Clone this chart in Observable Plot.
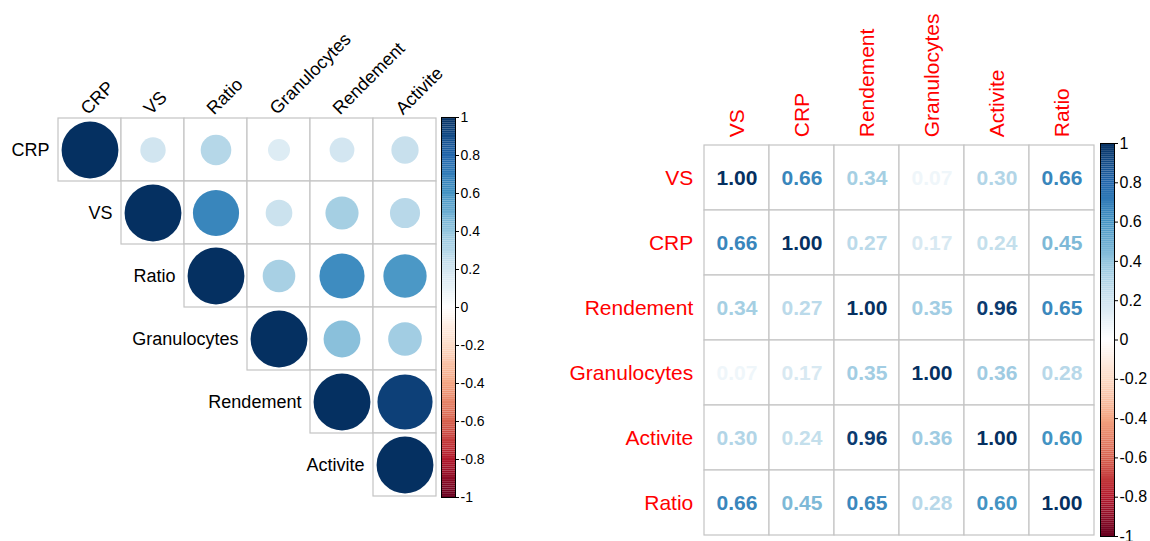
<!DOCTYPE html>
<html>
<head>
<meta charset="utf-8">
<script src="https://cdn.jsdelivr.net/npm/d3@7"></script>
<script src="https://cdn.jsdelivr.net/npm/@observablehq/plot@0.6"></script>
<style>
  body { margin: 0; background: #ffffff; }
  #chart { position: relative; width: 1150px; height: 541px; overflow: hidden; background: #ffffff; }
  #chart svg { position: absolute; top: 0; }
</style>
</head>
<body>
<div id="chart"></div>
<script>
// ---------- data ----------
const leftVars = ["CRP", "VS", "Ratio", "Granulocytes", "Rendement", "Activite"];
// upper triangle, row i from column i onward
const leftCRP = [1.00, 0.20, 0.29, 0.15, 0.19, 0.23];
const leftVS = [1.00, 0.66, 0.22, 0.34, 0.28];
const leftRatio = [1.00, 0.33, 0.63, 0.58];
const leftGranulocytes = [1.00, 0.42, 0.35];
const leftRendement = [1.00, 0.94];
const leftActivite = [1.00];

const rightVars = ["VS", "CRP", "Rendement", "Granulocytes", "Activite", "Ratio"];
const rightVS = [1.00, 0.66, 0.34, 0.07, 0.30, 0.66];
const rightCRP = [0.66, 1.00, 0.27, 0.17, 0.24, 0.45];
const rightRendement = [0.34, 0.27, 1.00, 0.35, 0.96, 0.65];
const rightGranulocytes = [0.07, 0.17, 0.35, 1.00, 0.36, 0.28];
const rightActivite = [0.30, 0.24, 0.96, 0.36, 1.00, 0.60];
const rightRatio = [0.66, 0.45, 0.65, 0.28, 0.60, 1.00];

const colorDomain = [-1, -0.8, -0.6, -0.4, -0.2, 0, 0.2, 0.4, 0.6, 0.8, 1];
const colorRange = ["#67001F", "#B2182B", "#D6604D", "#F4A582", "#FDDBC7", "#FFFFFF",
                    "#D1E5F0", "#92C5DE", "#4393C3", "#2166AC", "#053061"];
const tickLabels = ["-1", "-0.8", "-0.6", "-0.4", "-0.2", "0", "0.2", "0.4", "0.6", "0.8", "1"];

// ---------- tables ----------
const leftRows = [leftCRP, leftVS, leftRatio, leftGranulocytes, leftRendement, leftActivite];
const leftCells = [];
leftRows.forEach((vals, i) => vals.forEach((v, k) => leftCells.push({row: leftVars[i], col: leftVars[i + k], v})));

const rightRows = [rightVS, rightCRP, rightRendement, rightGranulocytes, rightActivite, rightRatio];
const rightCells = [];
rightRows.forEach((vals, i) => vals.forEach((v, j) => rightCells.push({row: rightVars[i], col: rightVars[j], v})));

const font = "'Liberation Sans', Arial, sans-serif";
const colorOpts = {type: "linear", domain: colorDomain, range: colorRange, interpolate: "rgb"};
const gridStroke = "#c4c4c4";
const chart = document.getElementById("chart");
function place(svg, left) { svg.style.left = left + "px"; chart.appendChild(svg); }

// ---------- left panel (circles) ----------
const L = {width: 480, height: 541, mL: 57, mR: 44, mT: 117, mB: 44};
const lCell = (L.width - L.mL - L.mR) / leftVars.length;
const leftPlot = Plot.plot({
  width: L.width, height: L.height,
  marginLeft: L.mL, marginRight: L.mR, marginTop: L.mT, marginBottom: L.mB,
  x: {domain: leftVars, axis: null, padding: 0},
  y: {domain: leftVars, axis: null, padding: 0},
  color: colorOpts,
  r: {type: "sqrt", domain: [0, 1], range: [0, 0.45 * lCell]},
  style: {fontFamily: font, fontSize: "18px", background: "transparent", color: "black"},
  marks: [
    Plot.cell(leftCells, {x: "col", y: "row", fill: "white", stroke: gridStroke, strokeWidth: 1.2}),
    Plot.dot(leftCells, {x: "col", y: "row", r: "v", fill: "v", stroke: null}),
    Plot.text(leftVars, {x: d => d, y: d => d, text: d => d, textAnchor: "end", dx: -lCell / 2 - 9, fill: "black"}),
    Plot.text(leftVars, {x: d => d, y: () => leftVars[0], text: d => d, textAnchor: "start", lineAnchor: "bottom",
                         rotate: -45, dx: -2, dy: -lCell / 2 - 3, fill: "black"})
  ]
});
place(leftPlot, 0);

// ---------- right panel (numbers) ----------
const R = {width: 560, height: 541, mL: 162, mR: 5, mT: 143, mB: 5};
const rCell = (R.width - R.mL - R.mR) / rightVars.length;
const rightPlot = Plot.plot({
  width: R.width, height: R.height,
  marginLeft: R.mL, marginRight: R.mR, marginTop: R.mT, marginBottom: R.mB,
  x: {domain: rightVars, axis: null, padding: 0},
  y: {domain: rightVars, axis: null, padding: 0},
  color: colorOpts,
  style: {fontFamily: font, fontSize: "21px", background: "transparent"},
  marks: [
    Plot.cell(rightCells, {x: "col", y: "row", fill: "white", stroke: gridStroke, strokeWidth: 1.2}),
    Plot.text(rightCells, {x: "col", y: "row", text: d => d3.format(".2f")(d.v), fill: "v", fontWeight: "bold"}),
    Plot.text(rightVars, {x: () => rightVars[0], y: d => d, text: d => d, textAnchor: "end", dx: -rCell / 2 - 11, fill: "red"}),
    Plot.text(rightVars, {x: d => d, y: () => rightVars[0], text: d => d, textAnchor: "start", rotate: -90,
                          dy: -rCell / 2 - 8, fill: "red"})
  ]
});
place(rightPlot, 540);

// ---------- colour bars ----------
const barSteps = d3.range(-1, 1, 0.01);
function colorBar(width, mL, mR, mT, mB, fontSize) {
  return Plot.plot({
    width, height: 541, marginLeft: mL, marginRight: mR, marginTop: mT, marginBottom: mB,
    x: {domain: [0, 1], axis: null},
    y: {domain: [-1, 1], axis: "right", ticks: colorDomain, tickSize: 3, tickPadding: 2, label: null,
        tickFormat: d => tickLabels[colorDomain.indexOf(d)]},
    color: colorOpts,
    style: {fontFamily: font, fontSize: fontSize + "px", background: "transparent", color: "black"},
    marks: [
      Plot.rect(barSteps, {x1: 0, x2: 1, y1: d => d, y2: d => d + 0.0101, fill: d => d + 0.005}),
      Plot.frame({stroke: "black", strokeWidth: 1})
    ]
  });
}
place(colorBar(50, 4, 32, 117, 44, 14), 437);
place(colorBar(55, 5, 36, 143, 5, 16), 1095);
</script>
</body>
</html>
